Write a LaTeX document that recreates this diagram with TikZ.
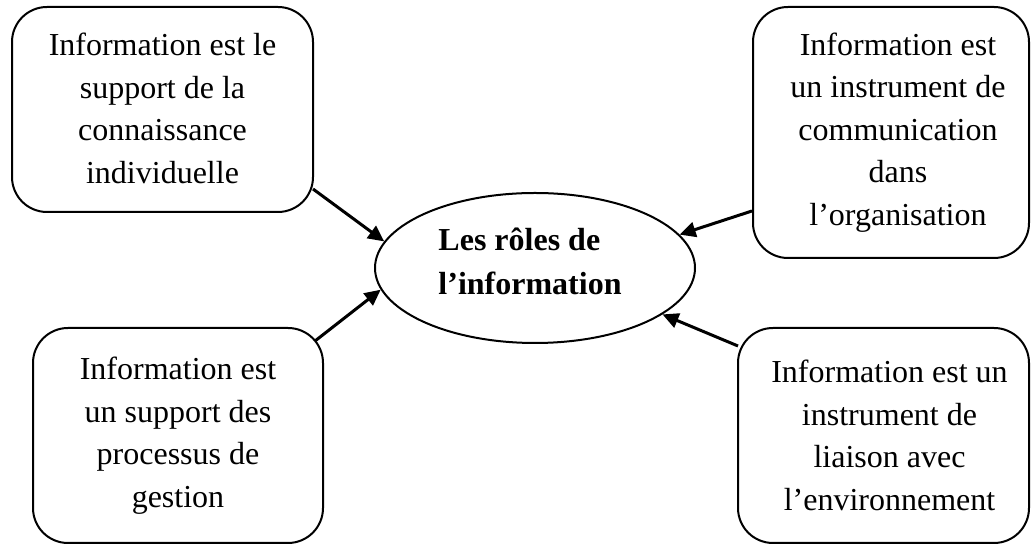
\documentclass[tikz,border=0pt]{standalone}
\usepackage{fontspec}
\setmainfont{Liberation Serif}
\usetikzlibrary{arrows.meta,shapes.geometric,calc}
\begin{document}
\begin{tikzpicture}[x=1pt,y=1pt,
  rolebox/.style={draw, line width=2pt, rounded corners=35pt, inner sep=0pt},
  roletext/.style={inner sep=0pt, align=center, font=\fontsize{32}{42.5}\selectfont},
  centre/.style={draw, ellipse, line width=2pt, inner sep=0pt,
    minimum width=320pt, minimum height=150pt},
  centretext/.style={inner sep=0pt, align=flush left,
    font=\fontsize{32}{44}\selectfont\bfseries},
  link/.style={line width=3pt, -{Triangle[length=16pt,width=15pt]}}]
\useasboundingbox (0,0) rectangle (1031,545);

% central topic
\node[centre] (el) at (535,277) {};
\node[centretext] (elt) at ($(el)+(-5,7)$) {Les rôles de\\l’information};

% the four role boxes
\node[rolebox, minimum width=301pt, minimum height=205pt] (tl) at (162.5,435.5) {};
\node[rolebox, minimum width=276pt, minimum height=251pt] (tr) at (891,412.5) {};
\node[rolebox, minimum width=290pt, minimum height=215pt] (bl) at (178,109.5) {};
\node[rolebox, minimum width=291pt, minimum height=215pt] (br) at (883.5,109.5) {};

% their texts
\node[roletext] (tlt) at ($(tl)+(0,1)$)
  {Information est le\\support de la\\connaissance\\individuelle};
\node[roletext] (trt) at ($(tr)+(7,0)$)
  {Information est\\un instrument de\\communication\\dans\\l’organisation};
\node[roletext] (blt) at ($(bl)+(0,0)$)
  {Information est\\un support des\\processus de\\gestion};
\node[roletext] (brt) at ($(br)+(6,0)$)
  {Information est un\\instrument de\\liaison avec\\l’environnement};

% where the connectors leave the boxes
\coordinate (s1) at ($(tl.south east)+(-1,24)$);
\coordinate (s2) at ($(bl.north east)+(-9,-14)$);
\coordinate (s3) at ($(tr.south west)+(0,48)$);
\coordinate (s4) at ($(br.north west)+(1,-19)$);

\draw[link] (s1) -- (el.170.5);
\draw[link] (s2) -- (el.188.8);
\draw[link] (s3) -- (el.13.8);
\draw[link] (s4) -- (el.-20.2);
\end{tikzpicture}
\end{document}
